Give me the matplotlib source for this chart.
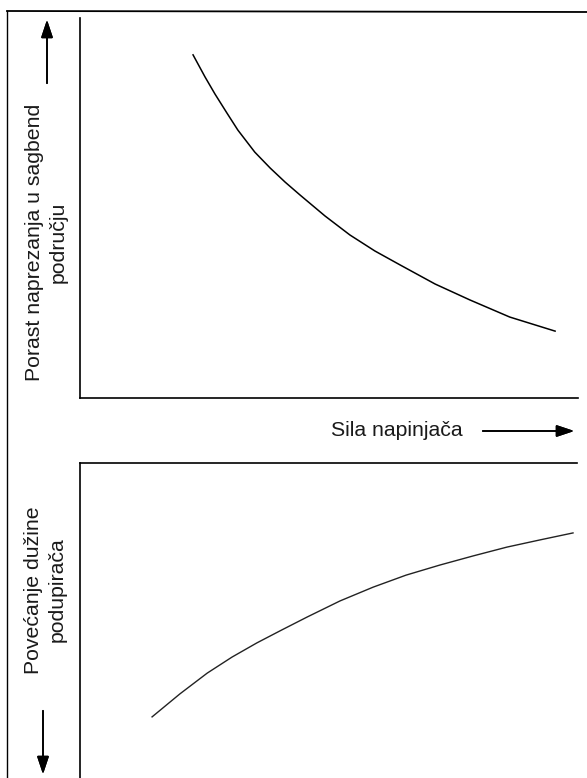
import matplotlib.pyplot as plt
from matplotlib.lines import Line2D

plt.rcParams['font.family'] = ['Liberation Sans', 'DejaVu Sans']

# gornji graf: porast naprezanja u sagbend području
sila_gore = [2.27, 2.51, 2.71, 2.95, 3.17, 3.51, 3.82, 4.12, 4.42, 4.92, 5.42,
             5.92, 6.43, 7.13, 7.83, 8.63, 9.54]
naprezanje = [9.03, 8.45, 8.00, 7.50, 7.05, 6.47, 6.05, 5.68, 5.34, 4.79, 4.29,
              3.87, 3.50, 3.00, 2.58, 2.13, 1.76]

# donji graf: povećanje dužine podupirača
sila_dolje = [1.45, 2.01, 2.56, 3.06, 3.56, 4.06, 4.57, 5.23, 5.90, 6.56, 7.24,
              7.91, 8.59, 9.26, 9.92]
duzina = [1.94, 2.67, 3.33, 3.84, 4.29, 4.70, 5.11, 5.62, 6.06, 6.44, 6.76,
          7.05, 7.33, 7.56, 7.78]

W, H = 587, 778
fig = plt.figure(figsize=(W / 100, H / 100), dpi=100)

def ax_px(x0, y0, x1, y1):
    # pravokutnik u pikselima (gore-lijevo, dolje-desno) -> koordinate figure
    return [x0 / W, 1 - y1 / H, (x1 - x0) / W, (y1 - y0) / H]

ax1 = fig.add_axes(ax_px(80, 18, 578, 398))
ax1.plot(sila_gore, naprezanje, color='black', lw=1.1)
ax1.set_xlim(0, 10)
ax1.set_ylim(0, 10)
for s in ['top', 'right']:
    ax1.spines[s].set_visible(False)

ax2 = fig.add_axes(ax_px(80, 463, 577, 778))
ax2.plot(sila_dolje, duzina, color='#222222', lw=1.0)
ax2.set_xlim(0, 10)
ax2.set_ylim(0, 10)
for s in ['bottom', 'right']:
    ax2.spines[s].set_visible(False)

for ax in (ax1, ax2):
    ax.set_xticks([])
    ax.set_yticks([])
    for s in ax.spines.values():
        s.set_linewidth(1.2)

# okvir slike
fig.add_artist(Line2D([7 / W, 7 / W], [0, 1 - 11 / H], color='black', lw=1.0))
fig.add_artist(Line2D([7 / W, 1], [1 - 11 / H, 1 - 12 / H], color='black', lw=1.3))

# natpisi osi
fig.text(46 / W, 1 - 242 / H, 'Porast naprezanja u sagbend\npodručju', rotation=90,
         ha='center', va='center', multialignment='center', fontsize=15.3,
         linespacing=1.3, color='#1a1a1a')
fig.text(45 / W, 1 - 590 / H, 'Povećanje dužine\npodupirača', rotation=90,
         ha='center', va='center', multialignment='center', fontsize=15.3,
         linespacing=1.3, color='#1a1a1a')
fig.text(397 / W, 1 - 431 / H, 'Sila napinjača', ha='center', va='center',
         fontsize=15.3, color='#1a1a1a')

# strelice
arrow = dict(arrowstyle='-|>,head_length=0.6,head_width=0.2', color='black',
             lw=1.2, mutation_scale=18)
fig.add_artist(plt.annotate('', xy=(577 / W, 1 - 431 / H), xytext=(480 / W, 1 - 431 / H),
                            xycoords='figure fraction', arrowprops=arrow))
fig.add_artist(plt.annotate('', xy=(47 / W, 1 - 17 / H), xytext=(47 / W, 1 - 86 / H),
                            xycoords='figure fraction', arrowprops=arrow))
fig.add_artist(plt.annotate('', xy=(43 / W, 1 - 777 / H), xytext=(43 / W, 1 - 708 / H),
                            xycoords='figure fraction', arrowprops=arrow))

fig.savefig('out.png', dpi=100)
